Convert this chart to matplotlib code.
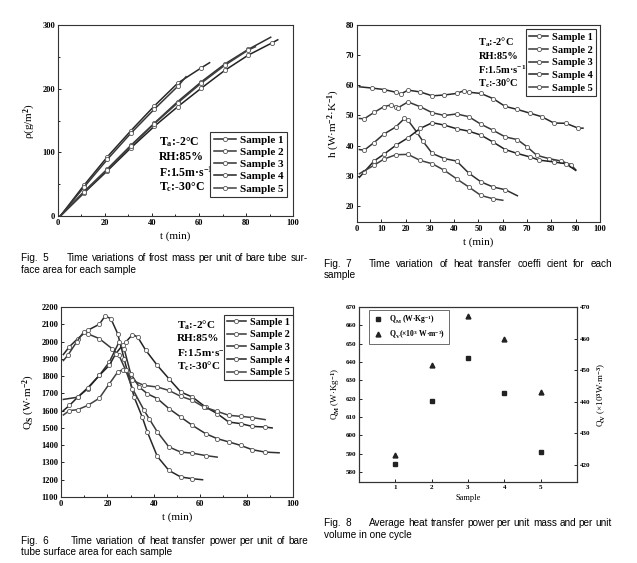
import numpy as np
import matplotlib
matplotlib.use("Agg")
import matplotlib.pyplot as plt
from matplotlib.ticker import MultipleLocator
from matplotlib.lines import Line2D

plt.rcParams['font.family'] = ['Liberation Serif', 'DejaVu Serif']
plt.rcParams['font.weight'] = 'bold'
plt.rcParams['mathtext.fontset'] = 'custom'
plt.rcParams['mathtext.rm'] = 'Liberation Serif:bold'
plt.rcParams['mathtext.it'] = 'Liberation Serif:bold'
plt.rcParams['mathtext.bf'] = 'Liberation Serif:bold'

samples = ["Sample 1", "Sample 2", "Sample 3", "Sample 4", "Sample 5"]
conditions = [r"T$_\mathrm{a}$:-2°C", "RH:85%", r"F:1.5m·s$^{-1}$", r"T$_\mathrm{c}$:-30°C"]

# Fig 5 - frost mass (g/m2)
t5 = [[1, 11, 21, 31, 41, 51, 61, 64.5],
      [1, 11, 21, 31, 41, 51, 54.5],
      [1, 11, 21, 31, 41, 51, 61, 71, 81, 90.5],
      [1, 11, 21, 31, 41, 51, 61, 71, 81, 91, 93.5],
      [1, 11, 21, 31, 41, 51, 61, 71, 81, 84]]
m5 = [[0, 48, 93, 134, 173, 209, 233, 241],
      [0, 45, 89, 130, 168, 204, 219],
      [0, 38, 74, 111, 146, 180, 211, 239, 262, 281],
      [0, 36, 71, 107, 141, 172, 201, 229, 253, 272, 277],
      [0, 37, 73, 110, 145, 178, 209, 237, 261, 266]]

# Fig 7 - heat transfer coefficient
t7 = [[1, 6, 11, 16, 18, 21, 26, 31, 36, 41, 44, 46, 51, 56, 61, 66, 71, 76, 81, 86, 91, 93],
      [1, 3, 7, 11, 14, 16, 17, 21, 26, 31, 36, 41, 46, 51, 56, 61, 66, 70, 74, 79, 84, 88, 90],
      [1, 3, 7, 11, 16, 19.5, 21, 24.5, 27, 31, 36, 41, 46, 51, 56, 61, 66],
      [1, 3, 7, 11, 16, 21, 26, 31, 36, 41, 46, 51, 56, 61, 66, 71, 75, 81, 86, 90],
      [1, 7, 11, 16, 21, 26, 31, 36, 41, 46, 51, 56, 60]]
h7 = [[59.5, 59.1, 58.6, 57.7, 57.1, 58.4, 57.8, 56.5, 56.8, 57.3, 58.2, 57.7, 57.3, 55.6, 53.0, 52.0, 50.8, 49.6, 47.5, 47.4, 45.8, 45.8],
      [49.0, 48.9, 51.0, 52.9, 53.5, 52.8, 52.6, 54.5, 52.9, 50.9, 50.0, 50.5, 49.6, 47.1, 45.1, 42.9, 42.0, 39.6, 36.8, 35.7, 34.9, 33.7, 32.0],
      [38.7, 38.5, 41.0, 43.8, 46.2, 49.0, 48.4, 44.6, 41.6, 37.4, 35.7, 34.9, 30.9, 28.0, 26.3, 25.4, 23.4],
      [29.5, 31.3, 34.9, 37.1, 40.1, 42.6, 45.7, 47.6, 46.8, 45.6, 44.8, 43.5, 41.2, 38.7, 37.4, 36.3, 35.2, 34.6, 34.0, 31.8],
      [30.7, 33.5, 35.5, 37.0, 37.1, 35.1, 34.0, 31.8, 29.0, 26.3, 23.5, 22.4, 21.9]]

# Fig 6 - heat transfer power (W/m2)
t6 = [[1, 3.6, 7.2, 11.5, 16.5, 19, 21.5, 24.4, 27.2, 31.5, 35, 37.2, 41.5, 46.5, 51.6, 56.6, 61],
      [1, 2.9, 6.7, 9.7, 11.5, 16.5, 22, 25, 27.9, 30.8, 35.8, 38, 41.5, 46.5, 51.6, 56.6, 62.3, 67.3],
      [1, 7.2, 11.5, 16.5, 20.8, 25, 27.2, 30, 33.7, 37.2, 41.5, 46.5, 51.6, 56.6, 62.3, 67.3, 72.3, 77.4, 82.4, 88, 94],
      [1, 3.6, 7.2, 11.5, 16.5, 20.8, 23.6, 26.5, 27.9, 30.8, 33, 36.5, 41.5, 46.5, 51.6, 56.6, 62.3, 67.3, 72.3, 77.4, 82.4, 88, 91],
      [1, 3.6, 7.2, 11.5, 16.5, 20.8, 24.4, 26.5, 27.9, 30.8, 35.8, 41.5, 46.5, 51.6, 56.6, 61.6, 67.3, 72.3, 77.4, 82.4, 88]]
q6 = [[1925, 1970, 2017, 2065, 2100, 2148, 2132, 2046, 1900, 1679, 1563, 1477, 1335, 1254, 1216, 1206, 1200],
      [1890, 1920, 1997, 2055, 2045, 2017, 1959, 1920, 1833, 1727, 1602, 1553, 1477, 1390, 1360, 1354, 1340, 1331],
      [1665, 1678, 1727, 1804, 1881, 1997, 1958, 1815, 1737, 1698, 1670, 1612, 1563, 1515, 1467, 1438, 1419, 1399, 1374, 1360, 1356],
      [1600, 1630, 1678, 1732, 1804, 1862, 1930, 1978, 1997, 2040, 2027, 1950, 1862, 1785, 1708, 1679, 1621, 1583, 1534, 1525, 1509, 1505, 1500],
      [1575, 1600, 1606, 1630, 1672, 1755, 1823, 1837, 1833, 1775, 1746, 1737, 1717, 1683, 1660, 1621, 1596, 1573, 1567, 1560, 1548]]

# Fig 8 - averages per cycle
sample_no = [1, 2, 3, 4, 5]
q_mass = [584.5, 618.5, 642, 623, 591]
q_vol = [423, 451.5, 467, 460, 443]

grays = ['#282828', '#383838', '#303030', '#222222', '#404040']

fig = plt.figure(figsize=(6.37, 5.63), dpi=100)
W, H = 637, 563


def style(ax, fs=6):
    ax.tick_params(direction='in', which='both', labelsize=fs, length=2.5, width=0.6, pad=2)
    ax.tick_params(which='minor', length=1.5)
    for s in ax.spines.values():
        s.set_linewidth(0.8)
        s.set_color('#333333')


def curves(ax, tt, yy):
    for i in range(5):
        ax.plot(tt[i], yy[i], color=grays[i], lw=1.1, marker='o', ms=3,
                mfc='white', mec='#555555', mew=0.6, markevery=slice(1, -1))


def conds(ax, x, ys, fs=7):
    for txt, y in zip(conditions, ys):
        ax.text(x, y, txt, transform=ax.transAxes, fontsize=fs, va='center', ha='left')


def leg(ax, loc, anchor, fs=7.5, hl=2.0, ls=0.25):
    handles = [Line2D([], [], color=grays[i], lw=1.1, marker='o', ms=3, mfc='white',
                      mec='#555555', mew=0.6) for i in range(5)]
    lg = ax.legend(handles, samples, loc=loc, bbox_to_anchor=anchor, fontsize=fs, fancybox=False,
                   edgecolor='#333333', framealpha=1, handlelength=hl, numpoints=1,
                   labelspacing=ls, borderpad=0.3, handletextpad=0.4, borderaxespad=0)
    lg.get_frame().set_linewidth(0.8)


# Fig 5
ax1 = fig.add_axes([0.091, 0.6163, 0.369, 0.339])
curves(ax1, t5, m5)
ax1.set_xlim(0, 100)
ax1.set_ylim(0, 300)
ax1.xaxis.set_major_locator(MultipleLocator(20))
ax1.xaxis.set_minor_locator(MultipleLocator(10))
ax1.yaxis.set_major_locator(MultipleLocator(100))
ax1.yaxis.set_minor_locator(MultipleLocator(50))
style(ax1)
ax1.set_xlabel("t (min)", fontsize=8, labelpad=3)
ax1.set_ylabel(r"ρ(g/m$^2$)", fontsize=8, labelpad=3)
leg(ax1, 'lower right', (0.975, 0.1), 8, 2.0, 0.22)
conds(ax1, 0.43, [0.387, 0.309, 0.23, 0.152], 8.5)

# Fig 7
ax2 = fig.add_axes([0.5604, 0.6057, 0.3815, 0.35])
curves(ax2, t7, h7)
ax2.set_xlim(0, 100)
ax2.set_ylim(14.7, 80)
ax2.xaxis.set_major_locator(MultipleLocator(10))
style(ax2)
ax2.set_yticks([20, 30, 40, 50, 60, 70, 80])
ax2.set_xlabel("t (min)", fontsize=8, labelpad=3)
ax2.set_ylabel(r"h (W·m$^{-2}$·K$^{-1}$)", fontsize=8, labelpad=3)
leg(ax2, 'upper right', (0.985, 0.977), 7.5, 1.8, 0.33)
conds(ax2, 0.50, [0.914, 0.838, 0.772, 0.706], 7.5)

# Fig 6
ax3 = fig.add_axes([0.0958, 0.1172, 0.3642, 0.3375])
curves(ax3, t6, q6)
ax3.set_xlim(0, 100)
ax3.set_ylim(1100, 2200)
ax3.xaxis.set_major_locator(MultipleLocator(20))
ax3.xaxis.set_minor_locator(MultipleLocator(10))
ax3.yaxis.set_major_locator(MultipleLocator(100))
style(ax3)
ax3.set_xlabel("t (min)", fontsize=8, labelpad=3)
ax3.set_ylabel(r"Q$_\mathrm{S}$ (W·m$^{-2}$)", fontsize=8, labelpad=3)
leg(ax3, 'upper right', (1.0, 0.96), 7.3, 1.9, 0.35)
conds(ax3, 0.50, [0.905, 0.832, 0.758, 0.689], 8)

# Fig 8
ax4 = fig.add_axes([0.5636, 0.1439, 0.3422, 0.3108])
ax5 = ax4.twinx()
p1, = ax4.plot(sample_no, q_mass, ls='none', marker='s', ms=3.2, color='#222222')
p2, = ax5.plot(sample_no, q_vol, ls='none', marker='^', ms=3.5, color='#222222')
ax4.set_xlim(0, 6)
ax4.set_ylim(574.5, 670)
ax5.set_ylim(414.6, 470)
ax4.set_xticks(sample_no)
ax5.yaxis.set_major_locator(MultipleLocator(10))
ax4.set_yticks(np.arange(580, 671, 10))
style(ax4, 5)
style(ax5, 5)
ax4.set_xlabel("Sample", fontsize=6, labelpad=3)
ax4.set_ylabel(r"Q$_\mathrm{M}$ (W·Kg$^{-1}$)", fontsize=6.5, labelpad=3)
ax5.set_ylabel(r"Q$_\mathrm{V}$ (×10$^3$W·m$^{-3}$)", fontsize=6.5, labelpad=4)
lg = ax4.legend([p1, p2], [r"Q$_\mathrm{M}$ (W·Kg$^{-1}$)", r"Q$_\mathrm{V}$(×10$^3$ W·m$^{-3}$)"],
                loc='upper left', bbox_to_anchor=(0.045, 0.985), fontsize=5.5, fancybox=False,
                edgecolor='#555555', framealpha=1, handlelength=1.5, labelspacing=0.3,
                borderpad=0.4, borderaxespad=0)
lg.get_frame().set_linewidth(0.6)

# captions, first lines justified between two pixel positions
cap = dict(fontsize=7.2, family='Liberation Sans', weight='normal', va='center', ha='left')
renderer = fig.canvas.get_renderer()


def justified(label, x_label, x0, x1, y, line):
    fig.text(x_label / W, 1 - y / H, label, **cap)
    words = line.split()
    arts = [fig.text(0, 1 - y / H, w, **cap) for w in words]
    widths = [a.get_window_extent(renderer).width for a in arts]
    gap = (x1 - x0 - sum(widths)) / (len(words) - 1)
    x = x0
    for a, w in zip(arts, widths):
        a.set_x(x / W)
        x += w + gap


justified("Fig.  5", 21, 67, 308, 258, "Time variations of frost mass per unit of bare tube sur-")
fig.text(21 / W, 1 - 270 / H, "face area for each sample", **cap)
justified("Fig.  7", 324, 369, 612, 264, "Time variation of heat transfer coeffi cient for each")
fig.text(324 / W, 1 - 275 / H, "sample", **cap)
justified("Fig.  6", 21, 71, 308, 541, "Time variation of heat transfer power per unit of bare")
fig.text(21 / W, 1 - 552 / H, "tube surface area for each sample", **cap)
justified("Fig.  8", 324, 369, 612, 523, "Average heat transfer power per unit mass and per unit")
fig.text(324 / W, 1 - 535 / H, "volume in one cycle", **cap)

fig.savefig("out.png", dpi=100)
